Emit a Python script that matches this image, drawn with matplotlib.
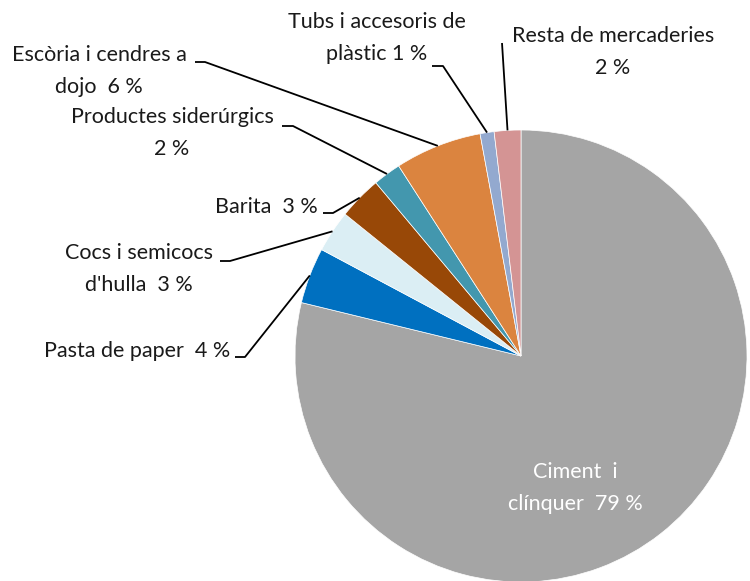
import numpy as np
import matplotlib.pyplot as plt

# Shares of goods (%), clockwise from 12 o'clock
labels = ["Ciment  i\nclínquer  79 %", "Pasta de paper  4 %", "Cocs i semicocs\nd'hulla  3 %",
          "Barita  3 %", "Productes siderúrgics\n2 %", "Escòria i cendres a\ndojo  6 %",
          "Tubs i accesoris de\nplàstic 1 %", "Resta de mercaderies\n2 %"]
values = [78.8, 4.0, 3.0, 3.1, 2.0, 6.2, 1.0, 1.9]
colors = ["#A5A5A5", "#0070C0", "#DBEEF4", "#984807", "#4397AE", "#DB843F", "#93A9CF", "#D49494"]

plt.rcParams['font.family'] = ['Lato', 'DejaVu Sans']

W, H = 750, 581
CX, CY, R = 521, 356, 226


def px(x, y):
    # pixel layout position -> data coordinates (pie radius = 1)
    return (x - CX) / R, (CY - y) / R


fig = plt.figure(figsize=(W / 100, H / 100), dpi=100)
ax = fig.add_axes([0, 0, 1, 1])
wedges, _ = ax.pie(values, colors=colors, startangle=90, counterclock=False,
                   radius=1, wedgeprops=dict(edgecolor='white', linewidth=0.5))
ax.set_xlim(-CX / R, (W - CX) / R)
ax.set_ylim((CY - H) / R, CY / R)
ax.set_aspect('equal')
ax.axis('off')

# label layout: text pixel pos, alignment, leader start/elbow pixel points
layout = [
    ((575, 488), 'center', None),
    ((230, 351), 'right', [(235, 357), (245, 357)]),
    ((139, 269), 'center', [(220, 261), (230, 261)]),
    ((318, 207), 'right', [(323, 213), (333, 213)]),
    ((172, 133), 'center', [(282, 126), (293, 126)]),
    ((99, 71), 'center', [(195, 62), (205, 62)]),
    ((377, 38), 'center', [(432, 66), (443, 66)]),
    ((613, 52), 'center', [(502, 43)]),
]

for i, (w, lab, (tpos, ha, pts)) in enumerate(zip(wedges, labels, layout)):
    tx, ty = px(*tpos)
    color = 'white' if i == 0 else '#1a1a1a'
    ax.text(tx, ty, lab, ha=ha, va='center', fontsize=15.5, color=color,
            linespacing=1.72, multialignment='center')
    if pts is None:
        continue
    mid = np.deg2rad((w.theta1 + w.theta2) / 2)
    xs = [px(*p)[0] for p in pts] + [np.cos(mid)]
    ys = [px(*p)[1] for p in pts] + [np.sin(mid)]
    ax.plot(xs, ys, color='black', lw=1.3, solid_capstyle='butt', clip_on=False)

fig.savefig('out.png', dpi=100)
